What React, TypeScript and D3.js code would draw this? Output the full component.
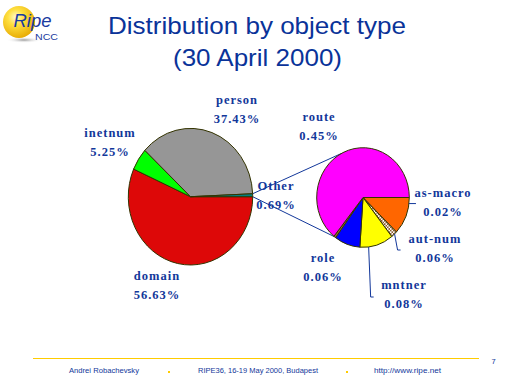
import React from "react";
import * as d3 from "d3";

// ---- data ----
const mainCategories = ["domain", "inetnum", "person", "Other"];
const mainValues = [56.63, 5.25, 37.43, 0.69];
const mainLabels = ["56.63%", "5.25%", "37.43%", "0.69%"];
const mainColors = ["#dd0808", "#00ff00", "#969696", "#008080"];

// breakdown of "Other" (slice sizes as drawn), clockwise from 3 o'clock
const otherCategories = ["as-macro", "aut-num", "mntner", "role", "misc", "route"];
const otherValues = [0.084, 0.015, 0.081, 0.062, 0.005, 0.443];
const otherLabels = ["0.02%", "0.06%", "0.08%", "0.06%", "", "0.45%"];
const otherColors = ["#ff6600", "url(#hatch)", "#ffff00", "#0000ff", "#996633", "#ff00ff"];

const titleLines = ["Distribution by object type", "(30 April 2000)"];
const footerTexts = ["Andrei Robachevsky", "RIPE36,  16-19 May 2000, Budapest", "http://www.ripe.net"];
const pageNumber = "7";

const NAVY = "#12379a";
const OUTLINE = "#333300";

const W = 512, H = 384;

// pie geometry
const L = { cx: 190.5, cy: 196.7, rx: 62.2, ry: 68.3 };
const R = { cx: 363, cy: 197.5, rx: 46.3, ry: 49.8 };

// label positions [x, y]
const mainLabelPos: Record<string, [number, number]> = {
  domain: [157, 280],
  inetnum: [110, 137],
  person: [237, 104],
  Other: [276, 190],
};
const otherLabelPos: Record<string, [number, number]> = {
  "as-macro": [443, 197],
  "aut-num": [435, 243],
  mntner: [404, 289],
  role: [323, 262],
  route: [319, 121],
};

function pt(p: typeof L, deg: number): [number, number] {
  const a = (deg * Math.PI) / 180;
  return [p.cx + p.rx * Math.cos(a), p.cy + p.ry * Math.sin(a)];
}

function Pie({ geo, values, colors }: { geo: typeof L; values: number[]; colors: string[] }) {
  const pie = d3.pie<number>().sort(null).value((d) => d).startAngle(Math.PI / 2).endAngle(Math.PI / 2 + 2 * Math.PI);
  const arcs = pie(values);
  const arc = d3.arc<d3.PieArcDatum<number>>().innerRadius(0).outerRadius(geo.rx);
  return (
    <g transform={`translate(${geo.cx},${geo.cy}) scale(1,${geo.ry / geo.rx})`}>
      {arcs.map((a, i) => (
        <path key={i} d={arc(a) || ""} fill={colors[i]} stroke={OUTLINE} strokeWidth={1} vectorEffect="non-scaling-stroke" strokeLinejoin="round" />
      ))}
    </g>
  );
}

function Label({ x, y, name, pct }: { x: number; y: number; name: string; pct: string }) {
  const st: React.CSSProperties = { fontFamily: "'Liberation Serif', 'Times New Roman', serif", fontWeight: "bold", fontSize: 12.5, letterSpacing: "1px" };
  return (
    <g fill={NAVY} style={st} textAnchor="middle">
      <text x={x} y={y}>{name}</text>
      <text x={x} y={y + 18.5}>{pct}</text>
    </g>
  );
}

export default function App() {
  // connector lines between Other slice and second pie
  const otherStartDeg = 360 - (mainValues[3] / d3.sum(mainValues)) * 360;
  const lTop = pt(L, otherStartDeg);
  const lBot = pt(L, 0);
  const rTop = pt(R, 242);
  const rBot = pt(R, 128);

  // leader lines on right pie
  const asMacroP = pt(R, 7);
  const autNumP = pt(R, 47);
  const mntnerP = pt(R, 83);

  return (
    <svg width={W} height={H} style={{ position: "absolute", left: 0, top: 0, background: "#fff" }}>
      <defs>
        <pattern id="hatch" width="3" height="3" patternUnits="userSpaceOnUse">
          <rect width="3" height="3" fill="#ffffff" />
          <rect width="1.5" height="1.5" fill="#8a5a2a" />
          <rect x="1.5" y="1.5" width="1.5" height="1.5" fill="#8a5a2a" />
        </pattern>
        <radialGradient id="ball" cx="0.4" cy="0.35" r="0.7">
          <stop offset="0" stopColor="#fffbd0" />
          <stop offset="0.35" stopColor="#ffe040" />
          <stop offset="1" stopColor="#e6a800" />
        </radialGradient>
        <radialGradient id="shadow" cx="0.5" cy="0.5" r="0.5">
          <stop offset="0" stopColor="#9a9a9a" />
          <stop offset="1" stopColor="#ffffff" stopOpacity="0" />
        </radialGradient>
      </defs>

      {/* logo */}
      <g>
        <ellipse cx={24} cy={40} rx={18} ry={3} fill="url(#shadow)" />
        <circle cx={19} cy={22} r={16} fill="url(#ball)" />
        <text x={13.5} y={27} fill="#1a3aa0" fontFamily="'Liberation Sans', Arial, sans-serif" fontSize={18.5} fontStyle="italic" textLength={38} lengthAdjust="spacingAndGlyphs">Ripe</text>
        <text x={35} y={39.5} fill="#1a3aa0" fontFamily="'Liberation Sans', Arial, sans-serif" fontSize={9} textLength={23} lengthAdjust="spacingAndGlyphs">NCC</text>
      </g>

      {/* title */}
      <g fill="#0a3399" fontFamily="'Liberation Sans', Arial, sans-serif" fontSize={24.5}>
        <text x={108} y={33.5} textLength={298} lengthAdjust="spacingAndGlyphs">{titleLines[0]}</text>
        <text x={173} y={65.5} textLength={169} lengthAdjust="spacingAndGlyphs">{titleLines[1]}</text>
      </g>

      {/* connector lines */}
      <g stroke={NAVY} strokeWidth={1} fill="none">
        <line x1={lTop[0]} y1={lTop[1]} x2={rTop[0]} y2={rTop[1]} />
        <line x1={lBot[0]} y1={lBot[1]} x2={rBot[0]} y2={rBot[1]} />
      </g>

      <Pie geo={L} values={mainValues} colors={mainColors} />
      <Pie geo={R} values={otherValues} colors={otherColors} />

      {/* leader lines */}
      <g stroke={NAVY} strokeWidth={1} fill="none">
        <polyline points={`${asMacroP[0]},${asMacroP[1]} ${asMacroP[0] + 7},${asMacroP[1]}`} />
        <polyline points={`${autNumP[0]},${autNumP[1]} ${autNumP[0] + 3},${250} ${autNumP[0] + 6},${250}`} />
        <polyline points={`${mntnerP[0]},${mntnerP[1]} ${mntnerP[0] + 2},${297} ${mntnerP[0] + 5},${297}`} />
      </g>

      {mainCategories.map((c, i) => (
        <Label key={c} x={mainLabelPos[c][0]} y={mainLabelPos[c][1]} name={c} pct={mainLabels[i]} />
      ))}
      {otherCategories.map((c, i) =>
        otherLabelPos[c] ? <Label key={c} x={otherLabelPos[c][0]} y={otherLabelPos[c][1]} name={c} pct={otherLabels[i]} /> : null
      )}

      {/* footer */}
      <line x1={33} y1={358.5} x2={479} y2={358.5} stroke="#ffcc00" strokeWidth={1} />
      <g fill={NAVY} fontFamily="'Liberation Sans', Arial, sans-serif" fontSize={7.5}>
        <text x={69} y={373} textLength={70} lengthAdjust="spacingAndGlyphs">{footerTexts[0]}</text>
        <text x={198} y={373} textLength={120} lengthAdjust="spacingAndGlyphs">{footerTexts[1]}</text>
        <text x={374} y={373} textLength={67} lengthAdjust="spacingAndGlyphs">{footerTexts[2]}</text>
        <text x={491.5} y={364}>{pageNumber}</text>
      </g>
      <rect x={168} y={371} width={2} height={2} fill="#ffcc00" />
      <rect x={346} y={371} width={2} height={2} fill="#ffcc00" />
    </svg>
  );
}
